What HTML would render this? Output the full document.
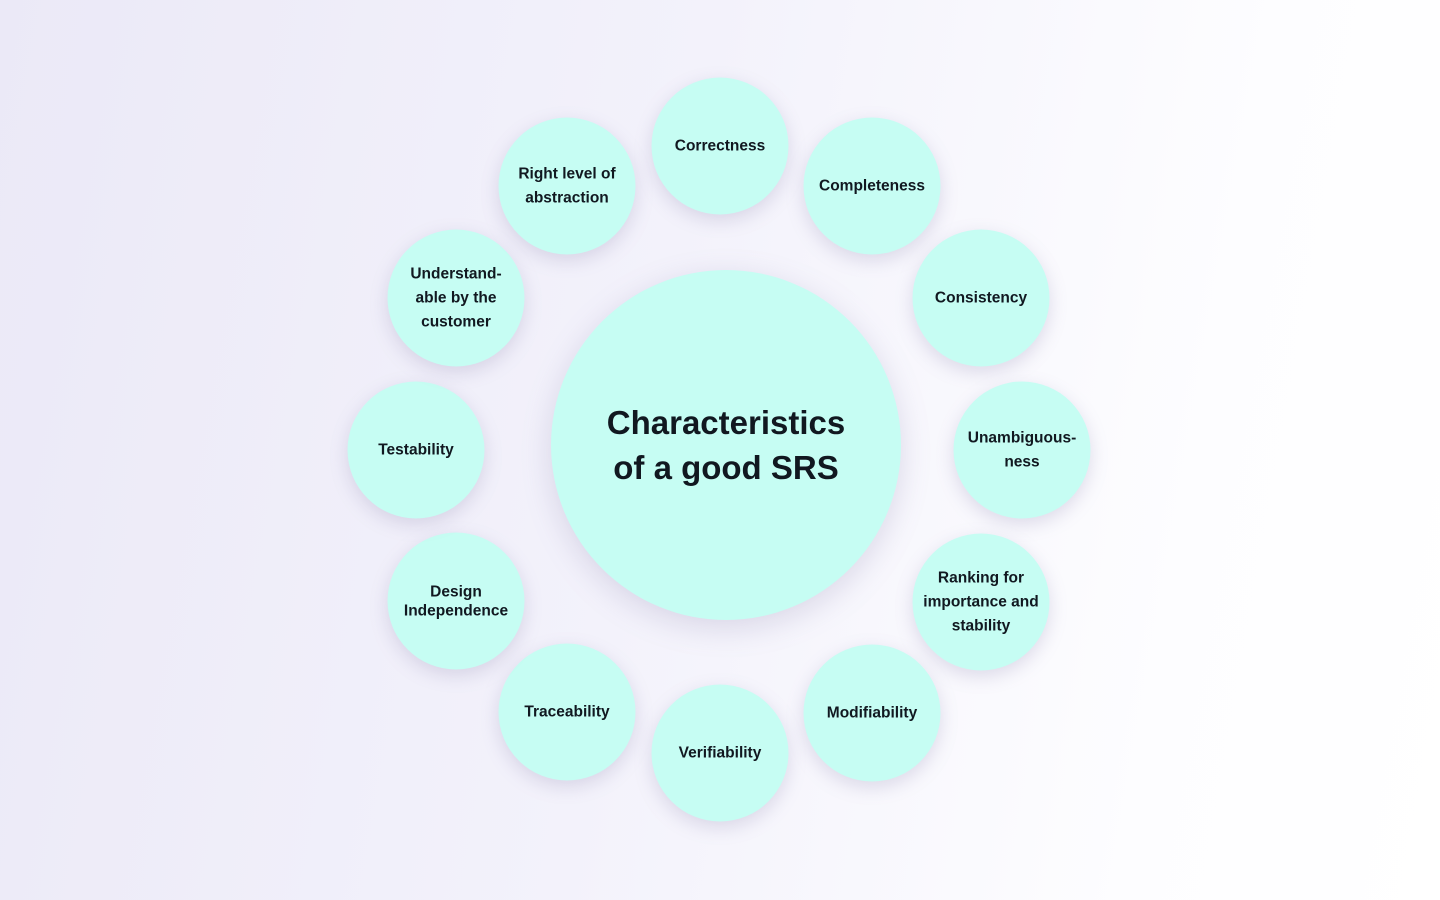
<!DOCTYPE html>
<html><head><meta charset="utf-8"><style>
body{margin:0;width:1440px;height:900px;overflow:hidden;background:linear-gradient(100deg,#ebe9f7 0%,#f3f2fb 45%,#fdfdff 80%,#ffffff 100%);font-family:"Liberation Sans",sans-serif;position:relative}
.c{position:absolute;width:137px;height:137px;border-radius:50%;background:#c6fdf3;box-shadow:0 6px 18px rgba(120,110,160,0.22);display:flex;align-items:center;justify-content:center;text-align:center;font-weight:bold;font-size:15.5px;line-height:24px;color:#111820;transform:translate(-50%,-50%)}
.big{position:absolute;left:726px;top:445px;width:350px;height:350px;border-radius:50%;background:#c6fdf3;box-shadow:0 8px 30px rgba(120,110,160,0.22);transform:translate(-50%,-50%);display:flex;align-items:center;justify-content:center;text-align:center;font-weight:bold;font-size:33px;line-height:45px;color:#111820}
</style></head><body>
<div class="big">Characteristics<br>of a good SRS</div>
<div class="c" style="left:720px;top:146px">Correctness</div>
<div class="c" style="left:872px;top:186px">Completeness</div>
<div class="c" style="left:981px;top:298px">Consistency</div>
<div class="c" style="left:1022px;top:450px">Unambiguous-<br>ness</div>
<div class="c" style="left:981px;top:602px">Ranking for<br>importance and<br>stability</div>
<div class="c" style="left:872px;top:713px">Modifiability</div>
<div class="c" style="left:720px;top:753px">Verifiability</div>
<div class="c" style="left:567px;top:712px">Traceability</div>
<div class="c" style="left:456px;top:601px;line-height:19px">Design<br>Independence</div>
<div class="c" style="left:416px;top:450px">Testability</div>
<div class="c" style="left:456px;top:298px">Understand-<br>able by the<br>customer</div>
<div class="c" style="left:567px;top:186px">Right level of<br>abstraction</div>
</body></html>
